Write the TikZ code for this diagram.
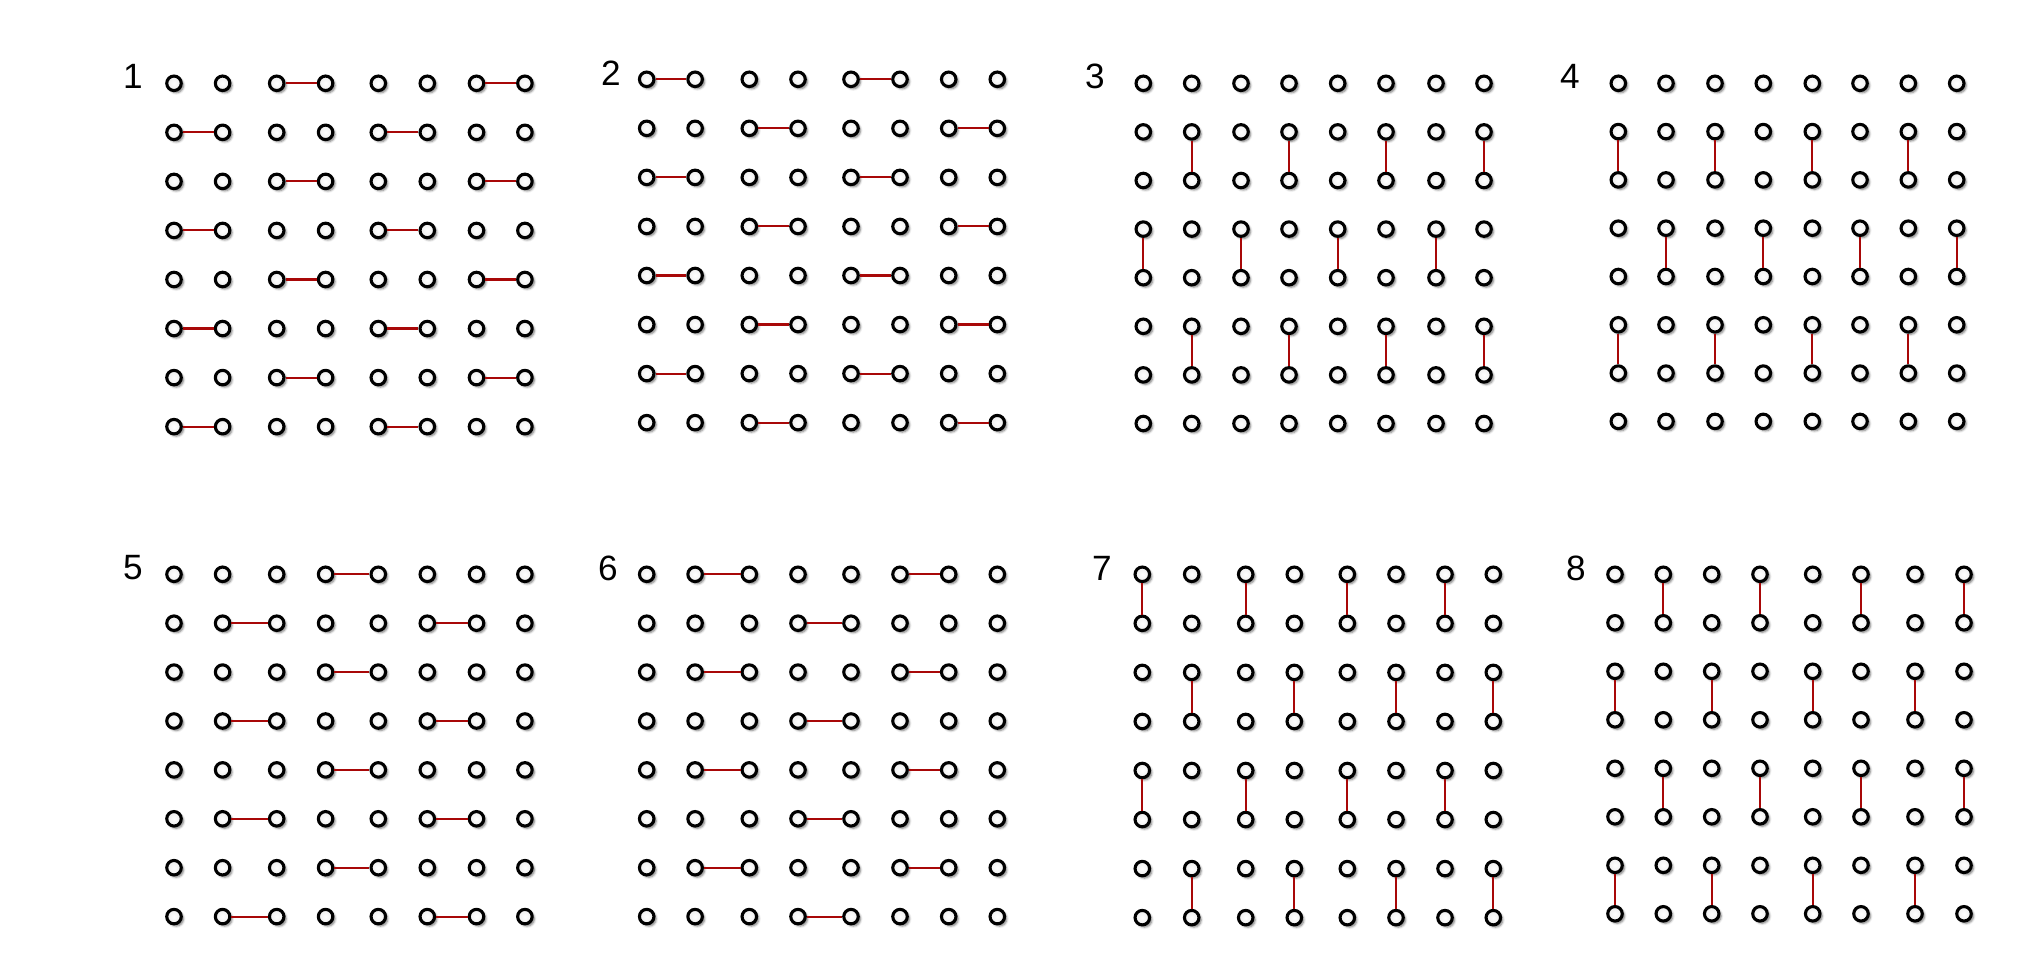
\documentclass[tikz,border=0pt]{standalone}
\usepackage{tikz}
\usepackage{xcolor}
\usepackage{fontspec}
\setmainfont{Liberation Sans}
\usetikzlibrary{shadows.blur}

\definecolor{bondred}{RGB}{168,8,8}

% 8x8 lattice of sites: name, x0, y0, dy, column offsets
\newcommand{\lattice}[5]{%
  \foreach \rw in {0,...,7}
    \foreach \cx [count=\cl from 0] in {#5}
      \node[site] (#1-\rw-\cl) at ({#2+\cx},{#3+\rw*#4}) {};}
% horizontal bonds: name, rows, left columns
\newcommand{\hbonds}[3]{%
  \foreach \rw in {#2}{
    \foreach \cl in {#3}{
      \pgfmathtruncatemacro{\cn}{\cl+1}
      \draw[bond] (#1-\rw-\cl) -- (#1-\rw-\cn);}}}
% vertical bonds: name, upper rows, columns
\newcommand{\vbonds}[3]{%
  \foreach \rw in {#2}{
    \pgfmathtruncatemacro{\rn}{\rw+1}
    \foreach \cl in {#3}{
      \draw[bond] (#1-\rw-\cl) -- (#1-\rn-\cl);}}}

\begin{document}
\begin{tikzpicture}[x=0.01cm,y=-0.01cm,
  site/.style={circle,draw=black,line width=0.031cm,inner sep=0pt,minimum size=0.145cm,
    inner color=white,outer color=gray!14,
    blur shadow={shadow xshift=0.022cm,shadow yshift=-0.022cm,shadow blur radius=0.022cm,shadow opacity=55}},
  bond/.style={bondred,line width=0.021cm},
  tag/.style={font=\fontsize{10}{12}\selectfont}]
	\useasboundingbox (0,0) rectangle (2042,973);

	% Top row
	\lattice{p1}{174}{83.3}{49.05}{0,48.6,102.7,151.6,204.3,253.3,302.5,350.9}
	\lattice{p2}{646.7}{79.3}{49.05}{0,48.4,102.6,151.3,204.3,253.3,302,350.6}
	\lattice{p3}{1143.3}{83.3}{48.6}{0,48.4,97.7,145.7,194.4,242.7,292.7,340.7}
	\lattice{p4}{1618.3}{83.3}{48.3}{0,47.7,96.7,145,194,241.7,290,338.4}
	% Bottom row
	\lattice{p5}{174}{574.3}{48.9}{0,48.6,102.7,151.6,204.3,253.3,302.5,350.9}
	\lattice{p6}{646.7}{574.3}{48.9}{0,48.4,102.6,151.3,204.3,253.3,302,350.6}
	\lattice{p7}{1142.3}{574.3}{49.05}{0,49.4,103.4,152,205,253.7,302.7,351}
	\lattice{p8}{1615}{574.3}{48.5}{0,48.3,96.7,145,197.7,246,300,349}

	\node[tag] (n1) at (133,76) {1};
	\node[tag] (n2) at (611,73) {2};
	\node[tag] (n3) at (1095,76) {3};
	\node[tag] (n4) at (1570,76) {4};
	\node[tag] (n5) at (133,568) {5};
	\node[tag] (n6) at (608,568) {6};
	\node[tag] (n7) at (1102,568) {7};
	\node[tag] (n8) at (1576,568) {8};

	% Dimer bonds
	\hbonds{p1}{0,2,4,6}{2,6} \hbonds{p1}{1,3,5,7}{0,4}
	\hbonds{p2}{0,2,4,6}{0,4} \hbonds{p2}{1,3,5,7}{2,6}
	\vbonds{p3}{1,5}{1,3,5,7} \vbonds{p3}{3}{0,2,4,6}
	\vbonds{p4}{1,5}{0,2,4,6} \vbonds{p4}{3}{1,3,5,7}
	\hbonds{p5}{0,2,4,6}{3}   \hbonds{p5}{1,3,5,7}{1,5}
	\hbonds{p6}{0,2,4,6}{1,5} \hbonds{p6}{1,3,5,7}{3}
	\vbonds{p7}{0,4}{0,2,4,6} \vbonds{p7}{2,6}{1,3,5,7}
	\vbonds{p8}{0,4}{1,3,5,7} \vbonds{p8}{2,6}{0,2,4,6}
\end{tikzpicture}
\end{document}
